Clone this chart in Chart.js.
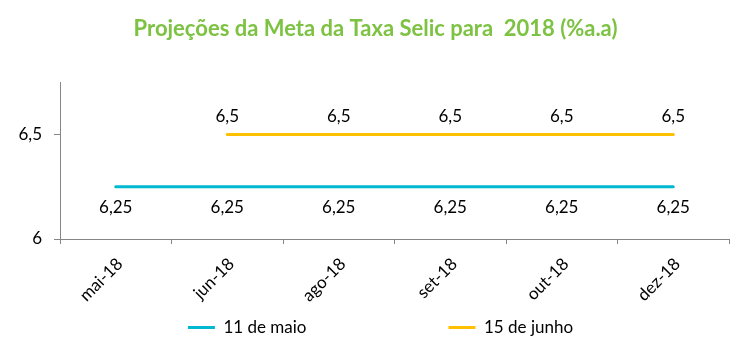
<!DOCTYPE html>
<html>
<head>
<meta charset="utf-8">
<script src="https://cdn.jsdelivr.net/npm/chart.js@4/dist/chart.umd.min.js"></script>
<style>
  html, body { margin: 0; padding: 0; background: #ffffff; }
  #wrap { width: 751px; height: 356px; position: relative; }
</style>
</head>
<body>
<div id="wrap"><canvas id="c" width="751" height="356"></canvas></div>
<script>
// ---- data ----
const categories = ['mai-18', 'jun-18', 'ago-18', 'set-18', 'out-18', 'dez-18'];
const seriesNames = ['11 de maio', '15 de junho'];
const maio11 = [6.25, 6.25, 6.25, 6.25, 6.25, 6.25];
const junho15 = [null, 6.5, 6.5, 6.5, 6.5, 6.5];
const yTicks = [6, 6.5];
const titleText = 'Projeções da Meta da Taxa Selic para  2018 (%a.a)';

const FONT = 'Lato, "Open Sans", sans-serif';
const AXIS_COLOR = '#868686';

function fmt(v) { return String(v).replace('.', ','); }

const dataLabels = {
  id: 'dataLabels',
  afterDatasetsDraw(chart) {
    const ctx = chart.ctx;
    ctx.save();
    ctx.font = '17px ' + FONT;
    ctx.fillStyle = '#000000';
    ctx.textAlign = 'center';
    ctx.textBaseline = 'middle';
    chart.data.datasets.forEach((ds, di) => {
      const meta = chart.getDatasetMeta(di);
      meta.data.forEach((pt, i) => {
        const v = ds.data[i];
        if (v === null || v === undefined) return;
        const dy = di === 0 ? 21 : -18;
        ctx.fillText(fmt(v), pt.x, pt.y + dy);
      });
    });
    ctx.restore();
  }
};

const boxPlace = {
  id: 'boxPlace',
  afterLayout(chart) {
    const lg = chart.legend;
    if (lg) {
      const p = lg.options.labels.padding;
      lg.top = lg.top - p + 3;
      lg.left += 16;
      lg.right += 16;
    }
    const tt = chart.titleBlock;
    if (tt) {
      tt.left += 11;
      tt.right += 11;
    }
  }
};

new Chart(document.getElementById('c'), {
  type: 'line',
  data: {
    labels: categories,
    datasets: [
      {
        label: seriesNames[0],
        data: maio11,
        borderColor: '#00B8D2',
        backgroundColor: '#00B8D2',
        borderWidth: 3,
        pointRadius: 0,
        tension: 0,
        borderCapStyle: 'round'
      },
      {
        label: seriesNames[1],
        data: junho15,
        borderColor: '#FFC000',
        backgroundColor: '#FFC000',
        borderWidth: 3,
        pointRadius: 0,
        tension: 0,
        borderCapStyle: 'round'
      }
    ]
  },
  options: {
    responsive: false,
    animation: false,
    events: [],
    layout: { padding: { left: 0, right: 22, top: 0, bottom: 0 } },
    plugins: {
      title: {
        display: true,
        text: titleText,
        color: '#7DC242',
        font: { family: FONT, size: 22, weight: 'bold', lineHeight: 1.2 },
        padding: { top: 16, bottom: 40 }
      },
      legend: {
        display: true,
        position: 'bottom',
        maxHeight: 40,
        labels: {
          usePointStyle: true,
          pointStyle: 'line',
          pointStyleWidth: 27,
          boxHeight: 17,
          padding: 142,
          color: '#000000',
          font: { family: FONT, size: 17 }
        }
      },
      tooltip: { enabled: false }
    },
    scales: {
      x: {
        type: 'category',
        offset: true,
        afterFit(scale) { scale.height = 77; },
        border: { display: true, color: AXIS_COLOR, width: 1 },
        grid: {
          display: true,
          offset: true,
          drawOnChartArea: false,
          drawTicks: true,
          tickLength: 5,
          color: AXIS_COLOR
        },
        ticks: {
          minRotation: 45,
          maxRotation: 45,
          padding: 10,
          labelOffset: 4,
          color: '#000000',
          font: { family: FONT, size: 17 }
        }
      },
      y: {
        min: 6,
        max: 6.75,
        afterFit(scale) { scale.width = 60; },
        afterBuildTicks(scale) { scale.ticks = yTicks.map(v => ({ value: v })); },
        border: { display: true, color: AXIS_COLOR, width: 1 },
        grid: {
          display: true,
          drawOnChartArea: false,
          drawTicks: true,
          tickLength: 6,
          color: AXIS_COLOR
        },
        ticks: {
          includeBounds: false,
          padding: 12,
          color: '#000000',
          font: { family: FONT, size: 17 },
          callback: (v) => fmt(v)
        }
      }
    }
  },
  plugins: [dataLabels, boxPlace]
});
</script>
</body>
</html>
